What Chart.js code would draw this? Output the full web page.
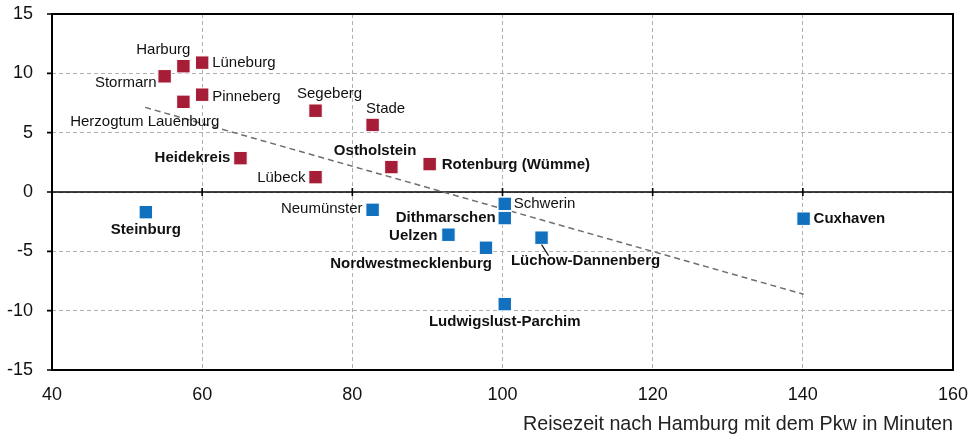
<!DOCTYPE html>
<html>
<head>
<meta charset="utf-8">
<script src="https://cdn.jsdelivr.net/npm/chart.js@4/dist/chart.umd.min.js"></script>
<style>
  html, body { margin: 0; padding: 0; background: #fff; }
  #wrap { width: 978px; height: 438px; }
</style>
</head>
<body>
<div id="wrap"><canvas id="chart"></canvas></div>
<script>
// Kreise mit positivem Wert (rot)
const redNames = ['Harburg', 'Lüneburg', 'Stormarn', 'Pinneberg', 'Herzogtum Lauenburg', 'Segeberg', 'Stade',
  'Heidekreis', 'Lübeck', 'Ostholstein', 'Rotenburg (Wümme)'];
const redX = [57.5, 60.0, 55.0, 60.0, 57.5, 75.1, 82.7, 65.1, 75.1, 85.2, 90.3];
const redY = [10.6, 10.9, 9.75, 8.2, 7.6, 6.85, 5.65, 2.85, 1.25, 2.1, 2.35];

// Kreise mit negativem Wert (blau)
const blueNames = ['Steinburg', 'Neumünster', 'Schwerin', 'Dithmarschen', 'Uelzen', 'Nordwestmecklenburg',
  'Lüchow-Dannenberg', 'Cuxhaven', 'Ludwigslust-Parchim'];
const blueX = [52.5, 82.7, 100.3, 100.3, 92.8, 97.8, 105.2, 140.1, 100.3];
const blueY = [-1.7, -1.5, -1.0, -2.2, -3.6, -4.7, -3.85, -2.25, -9.45];

// Trendlinie
const trendX = [52.4, 140.1];
const trendY = [7.13, -8.62];

const xTicks = [40, 60, 80, 100, 120, 140, 160];
const yTicks = [-15, -10, -5, 0, 5, 10, 15];
const xTitle = 'Reisezeit nach Hamburg mit dem Pkw in Minuten';

// Beschriftung: Ausrichtung und Versatz in Pixeln zum Punkt
const labelPos = {
  'Harburg': ['right', 7, -16],
  'Lüneburg': ['left', 10, 0],
  'Stormarn': ['right', -8, 7],
  'Pinneberg': ['left', 10, 2],
  'Herzogtum Lauenburg': ['right', 36, 20],
  'Segeberg': ['center', 14, -17],
  'Stade': ['center', 13, -16],
  'Heidekreis': ['right', -10, 0, true],
  'Lübeck': ['right', -10, 1],
  'Ostholstein': ['right', 25, -16, true],
  'Rotenburg (Wümme)': ['left', 12, 1, true],
  'Steinburg': ['center', 0, 18, true],
  'Neumünster': ['right', -10, -1],
  'Schwerin': ['left', 9, 0],
  'Dithmarschen': ['right', -9, 0, true],
  'Uelzen': ['right', -11, 1, true],
  'Nordwestmecklenburg': ['right', 6, 16, true],
  'Lüchow-Dannenberg': ['center', 44, 23, true],
  'Cuxhaven': ['left', 10, 0, true],
  'Ludwigslust-Parchim': ['center', 0, 18, true]
};

const toPoints = (xs, ys) => xs.map((x, i) => ({ x: x, y: ys[i] }));
const FONT = '"Liberation Sans", Arial, sans-serif';

// Rahmen, Nulllinie und Teilstriche
const framePlugin = {
  id: 'frame',
  beforeDatasetsDraw(chart) {
    const { ctx, chartArea: a, scales: { x, y } } = chart;
    const y0 = y.getPixelForValue(0);
    ctx.save();
    ctx.strokeStyle = '#000';
    ctx.lineWidth = 2;
    ctx.strokeRect(a.left, a.top, a.right - a.left, a.bottom - a.top);
    ctx.beginPath();
    ctx.moveTo(a.left, y0);
    ctx.lineTo(a.right, y0);
    ctx.lineWidth = 1.6;
    yTicks.forEach(v => {
      const py = y.getPixelForValue(v);
      ctx.moveTo(a.left - 5, py);
      ctx.lineTo(a.left, py);
    });
    xTicks.forEach(v => {
      const px = x.getPixelForValue(v);
      ctx.moveTo(px, y0 - 4);
      ctx.lineTo(px, y0 + 4);
    });
    ctx.stroke();
    ctx.restore();
  },
  afterDatasetsDraw(chart) {
    const { ctx } = chart;
    ctx.save();
    ctx.fillStyle = '#111';
    ctx.textBaseline = 'middle';
    [0, 1].forEach(di => {
      const names = di === 0 ? redNames : blueNames;
      const meta = chart.getDatasetMeta(di);
      meta.data.forEach((pt, i) => {
        const p = labelPos[names[i]];
        ctx.font = (p[3] ? 'bold ' : '') + '15px ' + FONT;
        ctx.textAlign = p[0];
        ctx.fillText(names[i], pt.x + p[1], pt.y + p[2]);
        if (names[i] === 'Lüchow-Dannenberg') {
          ctx.beginPath();
          ctx.strokeStyle = '#111';
          ctx.lineWidth = 1.2;
          ctx.moveTo(pt.x, pt.y + 7);
          ctx.lineTo(pt.x + 7, pt.y + 18);
          ctx.stroke();
        }
      });
    });
    ctx.restore();
  }
};

new Chart(document.getElementById('chart'), {
  type: 'scatter',
  data: {
    datasets: [{
      data: toPoints(redX, redY),
      backgroundColor: '#a51d36',
      borderColor: '#fff',
      borderWidth: 1,
      pointStyle: 'rect',
      pointRadius: 9.5,
      pointHoverRadius: 9.5,
      order: 1
    }, {
      data: toPoints(blueX, blueY),
      backgroundColor: '#1271be',
      borderColor: '#fff',
      borderWidth: 1,
      pointStyle: 'rect',
      pointRadius: 9.5,
      pointHoverRadius: 9.5,
      order: 2
    }, {
      type: 'line',
      data: toPoints(trendX, trendY),
      borderColor: '#6f6f6f',
      borderWidth: 1.5,
      borderDash: [6, 4],
      pointRadius: 0,
      fill: false,
      order: 3
    }]
  },
  options: {
    responsive: true,
    maintainAspectRatio: false,
    animation: false,
    layout: { padding: 0 },
    plugins: { legend: { display: false }, tooltip: { enabled: false } },
    scales: {
      x: {
        type: 'linear',
        min: 40, max: 160,
        afterBuildTicks: s => { s.ticks = xTicks.map(v => ({ value: v })); },
        afterFit: s => { s.height = 68; s.paddingLeft = 0; s.paddingRight = 25; },
        ticks: { color: '#111', font: { family: FONT, size: 18 }, padding: 14, maxRotation: 0 },
        grid: { color: '#b0b0b0', lineWidth: 1, drawTicks: false },
        border: { display: false, dash: [4, 3] },
        title: {
          display: true, text: xTitle, align: 'end', color: '#222',
          font: { family: FONT, size: 19.7 }, padding: { top: 0, bottom: 2 }
        }
      },
      y: {
        min: -15, max: 15,
        afterBuildTicks: s => { s.ticks = yTicks.map(v => ({ value: v })); },
        afterFit: s => { s.width = 52; s.paddingTop = 14; s.paddingBottom = 0; },
        ticks: { color: '#111', font: { family: FONT, size: 18 }, padding: 19 },
        grid: { color: '#b0b0b0', lineWidth: 1, drawTicks: false },
        border: { display: false, dash: [4, 3] }
      }
    }
  },
  plugins: [framePlugin]
});
</script>
</body>
</html>
